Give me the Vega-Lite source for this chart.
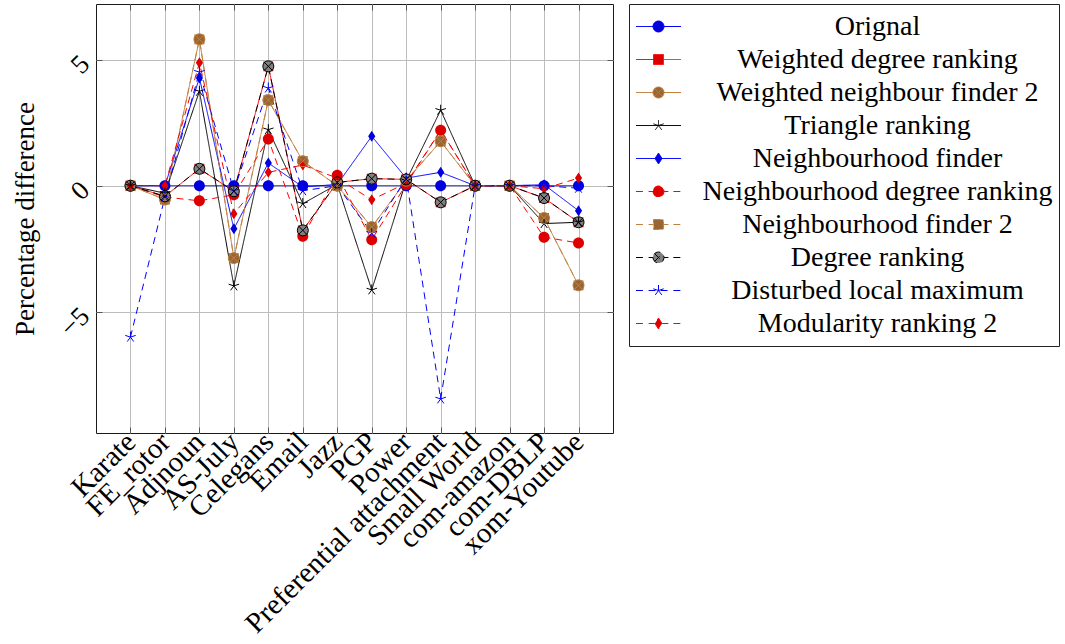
{
  "$schema": "https://vega.github.io/schema/vega-lite/v6.json",
  "width": 517,
  "height": 429,
  "autosize": {"type": "none"},
  "padding": {"left": 96, "top": 4, "right": 452, "bottom": 211},
  "config": {
    "font": "Liberation Serif",
    "view": {"stroke": "#1a1a1a", "strokeWidth": 1},
    "axis": {
      "labelFont": "Liberation Serif",
      "titleFont": "Liberation Serif",
      "labelColor": "#000",
      "titleColor": "#000",
      "labelFontSize": 27,
      "titleFontSize": 27,
      "titleFontWeight": "normal",
      "gridColor": "#bdbdbd",
      "gridWidth": 1,
      "tickColor": "#555",
      "domain": false,
      "labelOverlap": false,
      "labelLimit": 400
    },
    "legend": {
      "title": null, "orient": "right", "offset": 15, "padding": 6,
      "strokeColor": "#222", "fillColor": "#ffffff",
      "labelFont": "Liberation Serif", "labelFontSize": 28, "labelColor": "#000",
      "labelAlign": "center", "labelOffset": 205, "labelLimit": 600,
      "symbolSize": 121, "symbolStrokeWidth": 1, "symbolOffset": 9.5,
      "clipHeight": 33, "rowPadding": 0
    }
  },
  "data": {
    "values": [
      {"dataset": "Karate", "method": "Orignal", "value": 0},
      {"dataset": "Karate", "method": "Weighted degree ranking", "value": 0},
      {"dataset": "Karate", "method": "Weighted neighbour finder 2", "value": 0},
      {"dataset": "Karate", "method": "Triangle ranking", "value": 0},
      {"dataset": "Karate", "method": "Neighbourhood finder", "value": 0},
      {"dataset": "Karate", "method": "Neighbourhood degree ranking", "value": 0},
      {"dataset": "Karate", "method": "Neighbourhood finder 2", "value": 0},
      {"dataset": "Karate", "method": "Degree ranking", "value": 0},
      {"dataset": "Karate", "method": "Disturbed local maximum", "value": -6.0},
      {"dataset": "Karate", "method": "Modularity ranking 2", "value": 0},

      {"dataset": "FE_rotor", "method": "Orignal", "value": 0},
      {"dataset": "FE_rotor", "method": "Weighted degree ranking", "value": -0.42},
      {"dataset": "FE_rotor", "method": "Weighted neighbour finder 2", "value": -0.55},
      {"dataset": "FE_rotor", "method": "Triangle ranking", "value": -0.3},
      {"dataset": "FE_rotor", "method": "Neighbourhood finder", "value": 0},
      {"dataset": "FE_rotor", "method": "Neighbourhood degree ranking", "value": -0.45},
      {"dataset": "FE_rotor", "method": "Neighbourhood finder 2", "value": -0.55},
      {"dataset": "FE_rotor", "method": "Degree ranking", "value": -0.42},
      {"dataset": "FE_rotor", "method": "Disturbed local maximum", "value": -0.45},
      {"dataset": "FE_rotor", "method": "Modularity ranking 2", "value": 0},

      {"dataset": "Adjnoun", "method": "Orignal", "value": 0},
      {"dataset": "Adjnoun", "method": "Weighted degree ranking", "value": 0.67},
      {"dataset": "Adjnoun", "method": "Weighted neighbour finder 2", "value": 5.8},
      {"dataset": "Adjnoun", "method": "Triangle ranking", "value": 3.74},
      {"dataset": "Adjnoun", "method": "Neighbourhood finder", "value": 4.27},
      {"dataset": "Adjnoun", "method": "Neighbourhood degree ranking", "value": -0.6},
      {"dataset": "Adjnoun", "method": "Neighbourhood finder 2", "value": 5.8},
      {"dataset": "Adjnoun", "method": "Degree ranking", "value": 0.67},
      {"dataset": "Adjnoun", "method": "Disturbed local maximum", "value": 4.5},
      {"dataset": "Adjnoun", "method": "Modularity ranking 2", "value": 4.87},

      {"dataset": "AS-July", "method": "Orignal", "value": 0},
      {"dataset": "AS-July", "method": "Weighted degree ranking", "value": -0.22},
      {"dataset": "AS-July", "method": "Weighted neighbour finder 2", "value": -2.87},
      {"dataset": "AS-July", "method": "Triangle ranking", "value": -3.97},
      {"dataset": "AS-July", "method": "Neighbourhood finder", "value": -1.71},
      {"dataset": "AS-July", "method": "Neighbourhood degree ranking", "value": -0.36},
      {"dataset": "AS-July", "method": "Neighbourhood finder 2", "value": -2.87},
      {"dataset": "AS-July", "method": "Degree ranking", "value": -0.22},
      {"dataset": "AS-July", "method": "Disturbed local maximum", "value": -0.2},
      {"dataset": "AS-July", "method": "Modularity ranking 2", "value": -1.11},

      {"dataset": "Celegans", "method": "Orignal", "value": 0},
      {"dataset": "Celegans", "method": "Weighted degree ranking", "value": 4.73},
      {"dataset": "Celegans", "method": "Weighted neighbour finder 2", "value": 3.39},
      {"dataset": "Celegans", "method": "Triangle ranking", "value": 2.22},
      {"dataset": "Celegans", "method": "Neighbourhood finder", "value": 0.9},
      {"dataset": "Celegans", "method": "Neighbourhood degree ranking", "value": 1.85},
      {"dataset": "Celegans", "method": "Neighbourhood finder 2", "value": 3.39},
      {"dataset": "Celegans", "method": "Degree ranking", "value": 4.73},
      {"dataset": "Celegans", "method": "Disturbed local maximum", "value": 3.87},
      {"dataset": "Celegans", "method": "Modularity ranking 2", "value": 0.53},

      {"dataset": "Email", "method": "Orignal", "value": 0},
      {"dataset": "Email", "method": "Weighted degree ranking", "value": -1.77},
      {"dataset": "Email", "method": "Weighted neighbour finder 2", "value": 0.97},
      {"dataset": "Email", "method": "Triangle ranking", "value": -0.71},
      {"dataset": "Email", "method": "Neighbourhood finder", "value": -0.05},
      {"dataset": "Email", "method": "Neighbourhood degree ranking", "value": -2.0},
      {"dataset": "Email", "method": "Neighbourhood finder 2", "value": 0.97},
      {"dataset": "Email", "method": "Degree ranking", "value": -1.77},
      {"dataset": "Email", "method": "Disturbed local maximum", "value": -0.2},
      {"dataset": "Email", "method": "Modularity ranking 2", "value": 0.82},

      {"dataset": "Jazz", "method": "Orignal", "value": 0},
      {"dataset": "Jazz", "method": "Weighted degree ranking", "value": 0.13},
      {"dataset": "Jazz", "method": "Weighted neighbour finder 2", "value": 0.0},
      {"dataset": "Jazz", "method": "Triangle ranking", "value": 0.05},
      {"dataset": "Jazz", "method": "Neighbourhood finder", "value": 0.05},
      {"dataset": "Jazz", "method": "Neighbourhood degree ranking", "value": 0.41},
      {"dataset": "Jazz", "method": "Neighbourhood finder 2", "value": 0.0},
      {"dataset": "Jazz", "method": "Degree ranking", "value": 0.13},
      {"dataset": "Jazz", "method": "Disturbed local maximum", "value": 0.0},
      {"dataset": "Jazz", "method": "Modularity ranking 2", "value": 0.3},

      {"dataset": "PGP", "method": "Orignal", "value": 0},
      {"dataset": "PGP", "method": "Weighted degree ranking", "value": 0.28},
      {"dataset": "PGP", "method": "Weighted neighbour finder 2", "value": -1.64},
      {"dataset": "PGP", "method": "Triangle ranking", "value": -4.13},
      {"dataset": "PGP", "method": "Neighbourhood finder", "value": 1.96},
      {"dataset": "PGP", "method": "Neighbourhood degree ranking", "value": -2.14},
      {"dataset": "PGP", "method": "Neighbourhood finder 2", "value": -1.64},
      {"dataset": "PGP", "method": "Degree ranking", "value": 0.28},
      {"dataset": "PGP", "method": "Disturbed local maximum", "value": -1.88},
      {"dataset": "PGP", "method": "Modularity ranking 2", "value": -0.56},

      {"dataset": "Power", "method": "Orignal", "value": 0},
      {"dataset": "Power", "method": "Weighted degree ranking", "value": 0.25},
      {"dataset": "Power", "method": "Weighted neighbour finder 2", "value": 0.2},
      {"dataset": "Power", "method": "Triangle ranking", "value": 0.2},
      {"dataset": "Power", "method": "Neighbourhood finder", "value": 0.3},
      {"dataset": "Power", "method": "Neighbourhood degree ranking", "value": 0.05},
      {"dataset": "Power", "method": "Neighbourhood finder 2", "value": 0.2},
      {"dataset": "Power", "method": "Degree ranking", "value": 0.25},
      {"dataset": "Power", "method": "Disturbed local maximum", "value": 0.3},
      {"dataset": "Power", "method": "Modularity ranking 2", "value": 0.1},

      {"dataset": "Preferential attachment", "method": "Orignal", "value": 0},
      {"dataset": "Preferential attachment", "method": "Weighted degree ranking", "value": -0.66},
      {"dataset": "Preferential attachment", "method": "Weighted neighbour finder 2", "value": 1.76},
      {"dataset": "Preferential attachment", "method": "Triangle ranking", "value": 2.99},
      {"dataset": "Preferential attachment", "method": "Neighbourhood finder", "value": 0.53},
      {"dataset": "Preferential attachment", "method": "Neighbourhood degree ranking", "value": 2.2},
      {"dataset": "Preferential attachment", "method": "Neighbourhood finder 2", "value": 1.76},
      {"dataset": "Preferential attachment", "method": "Degree ranking", "value": -0.66},
      {"dataset": "Preferential attachment", "method": "Disturbed local maximum", "value": -8.45},
      {"dataset": "Preferential attachment", "method": "Modularity ranking 2", "value": 2.2},

      {"dataset": "Small World", "method": "Orignal", "value": 0},
      {"dataset": "Small World", "method": "Weighted degree ranking", "value": 0},
      {"dataset": "Small World", "method": "Weighted neighbour finder 2", "value": 0},
      {"dataset": "Small World", "method": "Triangle ranking", "value": 0},
      {"dataset": "Small World", "method": "Neighbourhood finder", "value": 0},
      {"dataset": "Small World", "method": "Neighbourhood degree ranking", "value": 0},
      {"dataset": "Small World", "method": "Neighbourhood finder 2", "value": 0},
      {"dataset": "Small World", "method": "Degree ranking", "value": 0},
      {"dataset": "Small World", "method": "Disturbed local maximum", "value": 0},
      {"dataset": "Small World", "method": "Modularity ranking 2", "value": 0},

      {"dataset": "com-amazon", "method": "Orignal", "value": 0},
      {"dataset": "com-amazon", "method": "Weighted degree ranking", "value": 0},
      {"dataset": "com-amazon", "method": "Weighted neighbour finder 2", "value": 0},
      {"dataset": "com-amazon", "method": "Triangle ranking", "value": 0},
      {"dataset": "com-amazon", "method": "Neighbourhood finder", "value": 0},
      {"dataset": "com-amazon", "method": "Neighbourhood degree ranking", "value": 0},
      {"dataset": "com-amazon", "method": "Neighbourhood finder 2", "value": 0},
      {"dataset": "com-amazon", "method": "Degree ranking", "value": 0},
      {"dataset": "com-amazon", "method": "Disturbed local maximum", "value": 0},
      {"dataset": "com-amazon", "method": "Modularity ranking 2", "value": 0},

      {"dataset": "com-DBLP", "method": "Orignal", "value": 0},
      {"dataset": "com-DBLP", "method": "Weighted degree ranking", "value": -0.49},
      {"dataset": "com-DBLP", "method": "Weighted neighbour finder 2", "value": -1.28},
      {"dataset": "com-DBLP", "method": "Triangle ranking", "value": -1.5},
      {"dataset": "com-DBLP", "method": "Neighbourhood finder", "value": 0.04},
      {"dataset": "com-DBLP", "method": "Neighbourhood degree ranking", "value": -2.04},
      {"dataset": "com-DBLP", "method": "Neighbourhood finder 2", "value": -1.28},
      {"dataset": "com-DBLP", "method": "Degree ranking", "value": -0.49},
      {"dataset": "com-DBLP", "method": "Disturbed local maximum", "value": 0.0},
      {"dataset": "com-DBLP", "method": "Modularity ranking 2", "value": -0.12},

      {"dataset": "xom-Youtube", "method": "Orignal", "value": 0},
      {"dataset": "xom-Youtube", "method": "Weighted degree ranking", "value": -1.45},
      {"dataset": "xom-Youtube", "method": "Weighted neighbour finder 2", "value": -3.95},
      {"dataset": "xom-Youtube", "method": "Triangle ranking", "value": -1.45},
      {"dataset": "xom-Youtube", "method": "Neighbourhood finder", "value": -0.99},
      {"dataset": "xom-Youtube", "method": "Neighbourhood degree ranking", "value": -2.27},
      {"dataset": "xom-Youtube", "method": "Neighbourhood finder 2", "value": -3.95},
      {"dataset": "xom-Youtube", "method": "Degree ranking", "value": -1.45},
      {"dataset": "xom-Youtube", "method": "Disturbed local maximum", "value": -0.1},
      {"dataset": "xom-Youtube", "method": "Modularity ranking 2", "value": 0.3}
    ]
  },
  "layer": [
    {
      "mark": {"type": "line", "strokeWidth": 1},
      "encoding": {
        "x": {
          "field": "dataset", "type": "nominal",
          "scale": {"type": "point", "padding": 1.28, "domain": ["Karate", "FE_rotor", "Adjnoun", "AS-July", "Celegans", "Email", "Jazz", "PGP", "Power", "Preferential attachment", "Small World", "com-amazon", "com-DBLP", "xom-Youtube"]},
          "axis": {"orient": "bottom", "title": null, "labelAngle": -45, "labelAlign": "right", "labelBaseline": "middle", "labelPadding": 10, "labelFontSize": 29, "grid": true, "ticks": true, "tickSize": -6}
        },
        "y": {
          "field": "value", "type": "quantitative",
          "scale": {"domain": [-9.8, 7.2], "nice": false, "zero": false},
          "axis": {"orient": "left", "values": [-5, 0, 5], "grid": true, "tickSize": -6, "labelAngle": -45, "labelAlign": "right", "labelBaseline": "middle", "labelPadding": 17, "title": "Percentage difference", "titleAngle": -90, "titleX": -71, "titleY": 214.5, "titleAlign": "center", "titleBaseline": "middle"}
        },
        "stroke": {
          "field": "method", "type": "nominal",
          "scale": {
            "domain": ["Orignal", "Weighted degree ranking", "Weighted neighbour finder 2", "Triangle ranking", "Neighbourhood finder", "Neighbourhood degree ranking", "Neighbourhood finder 2", "Degree ranking", "Disturbed local maximum", "Modularity ranking 2"],
            "range": ["#0000ff", "#ff0000", "#bf8040", "#000000", "#0000ff", "#ff0000", "#bf8040", "#000000", "#0000ff", "#ff0000"]
          },
          "legend": {"title": null}
        },
        "strokeDash": {
          "field": "method", "type": "nominal",
          "scale": {
            "domain": ["Orignal", "Weighted degree ranking", "Weighted neighbour finder 2", "Triangle ranking", "Neighbourhood finder", "Neighbourhood degree ranking", "Neighbourhood finder 2", "Degree ranking", "Disturbed local maximum", "Modularity ranking 2"],
            "range": [[1, 0], [1, 0], [1, 0], [1, 0], [1, 0], [7, 5], [7, 5], [7, 5], [7, 5], [7, 5]]
          },
          "legend": null
        }
      }
    },
    {
      "mark": {"type": "point", "filled": true, "opacity": 1, "size": 121},
      "encoding": {
        "x": {
          "field": "dataset", "type": "nominal",
          "scale": {"type": "point", "padding": 1.28, "domain": ["Karate", "FE_rotor", "Adjnoun", "AS-July", "Celegans", "Email", "Jazz", "PGP", "Power", "Preferential attachment", "Small World", "com-amazon", "com-DBLP", "xom-Youtube"]},
          "axis": {"orient": "top", "title": null, "labels": false, "grid": false, "tickSize": -6}
        },
        "y": {
          "field": "value", "type": "quantitative",
          "scale": {"domain": [-9.8, 7.2], "nice": false, "zero": false},
          "axis": {"orient": "right", "title": null, "labels": false, "grid": false, "tickSize": -6, "values": [-5, 0, 5]}
        },
        "shape": {
          "field": "method", "type": "nominal",
          "scale": {
            "domain": ["Orignal", "Weighted degree ranking", "Weighted neighbour finder 2", "Triangle ranking", "Neighbourhood finder", "Neighbourhood degree ranking", "Neighbourhood finder 2", "Degree ranking", "Disturbed local maximum", "Modularity ranking 2"],
            "range": [
              "M-4.1,0L-1,0M1,0L4.1,0M-1,0A1,1 0 1,0 1,0A1,1 0 1,0 -1,0Z",
              "M-4.1,0L-0.9,0M0.9,0L4.1,0M-0.9,-0.9L0.9,-0.9L0.9,0.9L-0.9,0.9Z",
              "M-4.1,0L-1,0M1,0L4.1,0M-1,0A1,1 0 1,0 1,0A1,1 0 1,0 -1,0ZM-0.7,-0.7L0.7,0.7M-0.7,0.7L0.7,-0.7",
              "M-4.1,0L4.1,0M0,0L0,-1M0,0L-0.95,-0.31M0,0L-0.59,0.81M0,0L0.59,0.81M0,0L0.95,-0.31",
              "M-4.1,0L-0.65,0M0.65,0L4.1,0M0,-1L0.65,0L0,1L-0.65,0Z",
              "M-4.1,0L-2.7,0M-1.8,0L-1,0M1,0L1.8,0M2.7,0L4.1,0M-1,0A1,1 0 1,0 1,0A1,1 0 1,0 -1,0Z",
              "M-4.1,0L-2.7,0M-1.8,0L-0.9,0M0.9,0L1.8,0M2.7,0L4.1,0M-0.9,-0.9L0.9,-0.9L0.9,0.9L-0.9,0.9Z",
              "M-4.1,0L-2.7,0M-1.8,0L-1,0M1,0L1.8,0M2.7,0L4.1,0M-1,0A1,1 0 1,0 1,0A1,1 0 1,0 -1,0ZM-0.7,-0.7L0.7,0.7M-0.7,0.7L0.7,-0.7",
              "M-4.1,0L-2.7,0M-1.8,0L1.8,0M2.7,0L4.1,0M0,0L0,-1M0,0L-0.95,-0.31M0,0L-0.59,0.81M0,0L0.59,0.81M0,0L0.95,-0.31",
              "M-4.1,0L-2.7,0M-1.8,0L-0.65,0M0.65,0L1.8,0M2.7,0L4.1,0M0,-1L0.65,0L0,1L-0.65,0Z"
            ]
          },
          "legend": {"title": null}
        },
        "fill": {
          "field": "method", "type": "nominal",
          "scale": {
            "domain": ["Orignal", "Weighted degree ranking", "Weighted neighbour finder 2", "Triangle ranking", "Neighbourhood finder", "Neighbourhood degree ranking", "Neighbourhood finder 2", "Degree ranking", "Disturbed local maximum", "Modularity ranking 2"],
            "range": ["#0000dd", "#dd0000", "#996633", "#000000", "#0000dd", "#dd0000", "#996633", "#808080", "#0000dd", "#dd0000"]
          },
          "legend": {"title": null}
        }
      }
    },
    {
      "transform": [{"filter": {"field": "method", "oneOf": ["Triangle ranking", "Disturbed local maximum"]}}],
      "mark": {"type": "point", "filled": false, "opacity": 1, "strokeWidth": 1, "size": 121, "shape": "M0,0L0,-1M0,0L-0.95,-0.31M0,0L-0.59,0.81M0,0L0.59,0.81M0,0L0.95,-0.31"},
      "encoding": {
        "x": {"field": "dataset", "type": "nominal", "axis": null},
        "y": {"field": "value", "type": "quantitative", "axis": null},
        "stroke": {"field": "method", "type": "nominal", "legend": null}
      }
    },
    {
      "transform": [{"filter": {"field": "method", "oneOf": ["Weighted neighbour finder 2", "Degree ranking"]}}],
      "mark": {"type": "point", "filled": false, "opacity": 1, "strokeWidth": 1, "size": 121, "shape": "M-1,0A1,1 0 1,0 1,0A1,1 0 1,0 -1,0ZM-0.7,-0.7L0.7,0.7M-0.7,0.7L0.7,-0.7"},
      "encoding": {
        "x": {"field": "dataset", "type": "nominal", "axis": null},
        "y": {"field": "value", "type": "quantitative", "axis": null},
        "stroke": {"field": "method", "type": "nominal", "legend": null}
      }
    }
  ],
  "resolve": {"axis": {"x": "independent", "y": "independent"}}
}
